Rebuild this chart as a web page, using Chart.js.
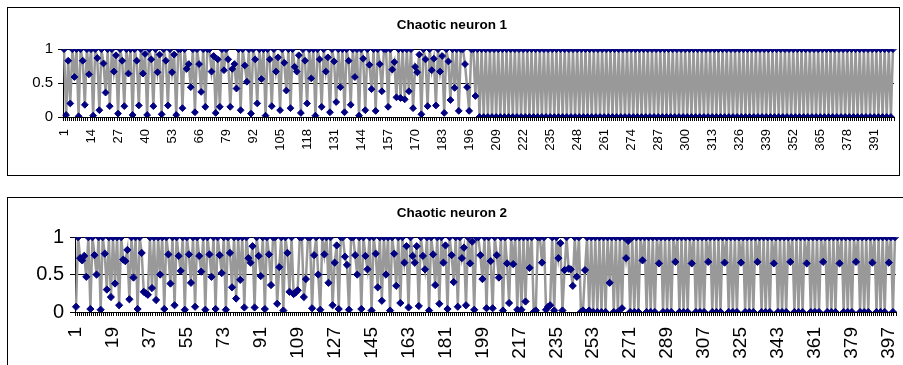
<!DOCTYPE html>
<html>
<head>
<meta charset="utf-8">
<script src="https://cdn.jsdelivr.net/npm/chart.js@4.4.1/dist/chart.umd.min.js"></script>
<style>
  html, body { margin: 0; padding: 0; background: #fff; width: 903px; height: 365px; overflow: hidden; }
  .box { position: absolute; border: 1px solid #000; background: #fff; }
  #box1 { left: 7px; top: 7px; width: 891px; height: 167px; }
  #box2 { left: 7px; top: 197px; width: 909px; height: 200px; }
  canvas { display: block; }
</style>
</head>
<body>
<div class="box" id="box1"><canvas id="chart1" width="891" height="167"></canvas></div>
<div class="box" id="box2"><canvas id="chart2" width="909" height="200"></canvas></div>
<script>
/* ---- Dados ---- */
// categorias 1..400 (só índices de passo)
const categories = Array.from({ length: 400 }, (_, i) => String(i + 1));

// rótulos visíveis do eixo X
const tickLabels1 = [1, 14, 27, 40, 53, 66, 79, 92, 105, 118, 131, 144, 157, 170, 183, 196,
  209, 222, 235, 248, 261, 274, 287, 300, 313, 326, 339, 352, 365, 378, 391];
const tickLabels2 = [1, 19, 37, 55, 73, 91, 109, 127, 145, 163, 181, 199, 217, 235, 253, 271,
  289, 307, 325, 343, 361, 379, 397];

// saída do neurônio 1
const neuron1 = [
  1, 0.03, 0.83, 0.2, 1, 0.59, 1, 0.01, 1, 0.83,
  0.18, 1, 0.63, 1, 0.02, 1, 0.87, 0.1, 1, 0.79,
  0.36, 1, 0.16, 1, 0.67, 0.91, 0.05, 1, 0.83, 0.16,
  1, 0.64, 1, 0.03, 1, 0.83, 0.17, 1, 0.64, 0.93,
  0.03, 1, 0.85, 0.16, 1, 0.66, 0.92, 0.04, 1, 0.83,
  0.17, 1, 0.66, 0.92, 0.03, 1, 1, 0.13, 1, 0.71,
  0.78, 0.44, 1, 0.07, 1, 0.78, 0.37, 1, 0.15, 1,
  1, 0.67, 0.9, 0.06, 0.85, 0.15, 1, 0.69, 1, 0.85,
  0.15, 0.71, 0.78, 0.42, 1, 0.1, 1, 0.76, 0.52, 1,
  0.05, 1, 0.85, 0.2, 1, 0.56, 1, 0.02, 1, 0.85,
  0.16, 1, 0.67, 0.88, 0.1, 1, 0.8, 0.39, 1, 0.13,
  1, 0.74, 0.67, 0.91, 0.06, 1, 0.83, 0.2, 1, 0.57,
  1, 0.02, 1, 0.85, 0.15, 1, 0.67, 0.88, 0.07, 1,
  0.82, 0.22, 1, 0.44, 1, 0.07, 1, 0.83, 0.18, 1,
  0.59, 1, 0.02, 1, 0.86, 0.1, 1, 0.77, 0.41, 1,
  0.09, 1, 0.78, 0.38, 1, 1, 0.15, 1, 0.7, 0.81,
  0.29, 1, 0.28, 1, 0.26, 1, 0.38, 1, 0.13, 0.74,
  0.66, 0.92, 0.04, 1, 0.85, 0.16, 1, 0.69, 0.86, 0.17,
  1, 0.67, 0.9, 0.06, 1, 0.82, 0.25, 1, 0.43, 1,
  0.09, 1, 1, 0.78, 0.44, 0.09, 1, 1, 0.31, 1,
  0, 1, 0, 1, 0, 1, 0, 1, 0, 1, 0, 1, 0, 1, 0, 1, 0, 1, 0, 1,
  0, 1, 0, 1, 0, 1, 0, 1, 0, 1, 0, 1, 0, 1, 0, 1, 0, 1, 0, 1,
  0, 1, 0, 1, 0, 1, 0, 1, 0, 1, 0, 1, 0, 1, 0, 1, 0, 1, 0, 1,
  0, 1, 0, 1, 0, 1, 0, 1, 0, 1, 0, 1, 0, 1, 0, 1, 0, 1, 0, 1,
  0, 1, 0, 1, 0, 1, 0, 1, 0, 1, 0, 1, 0, 1, 0, 1, 0, 1, 0, 1,
  0, 1, 0, 1, 0, 1, 0, 1, 0, 1, 0, 1, 0, 1, 0, 1, 0, 1, 0, 1,
  0, 1, 0, 1, 0, 1, 0, 1, 0, 1, 0, 1, 0, 1, 0, 1, 0, 1, 0, 1,
  0, 1, 0, 1, 0, 1, 0, 1, 0, 1, 0, 1, 0, 1, 0, 1, 0, 1, 0, 1,
  0, 1, 0, 1, 0, 1, 0, 1, 0, 1, 0, 1, 0, 1, 0, 1, 0, 1, 0, 1,
  0, 1, 0, 1, 0, 1, 0, 1, 0, 1, 0, 1, 0, 1, 0, 1, 0, 1, 0, 1
];

// saída do neurônio 2
const neuron2 = [
  0.07, 1, 0.72, 0.69, 0.75, 0.47, 1, 0.04, 1, 0.76,
  0.5, 1, 0.03, 1, 0.78, 0.3, 1, 0.2, 1, 0.38,
  1, 0.09, 1, 0.7, 0.68, 0.83, 0.17, 1, 0.46, 1,
  0.04, 1, 0.79, 0.27, 0.25, 0.23, 1, 0.32, 1, 0.16,
  1, 0.5, 1, 0.04, 1, 0.77, 0.38, 1, 0.09, 1,
  0.75, 0.55, 1, 0.03, 1, 0.77, 0.39, 1, 0.07, 1,
  0.75, 0.54, 1, 0.03, 1, 0.77, 0.47, 1, 0.04, 1,
  0.76, 0.52, 1, 0.03, 1, 0.79, 0.33, 1, 0.18, 1,
  0.43, 1, 0.06, 1, 0.72, 0.66, 0.88, 0.06, 1, 0.75,
  0.48, 1, 0.04, 1, 0.77, 0.36, 1, 1, 0.11, 0.6,
  1, 0.02, 1, 0.79, 0.27, 1, 0.24, 0.26, 0.29, 1,
  1, 0.2, 0.44, 1, 1, 0.05, 0.76, 1, 0.5, 0.03,
  1, 0.77, 1, 0.39, 1, 0.09, 0.66, 0.89, 0.04, 1,
  1, 0.74, 0.63, 0.03, 1, 1, 0.76, 0.5, 1, 0.04,
  1, 0.75, 0.57, 1, 0.02, 1, 0.78, 0.33, 1, 0.15,
  1, 0.5, 1, 0.02, 1, 0.78, 0.35, 1, 0.12, 1,
  0.66, 0.88, 0.06, 1, 0.75, 0.66, 0.88, 0.08, 1, 0.75,
  0.57, 1, 0.02, 1, 0.77, 0.36, 1, 0.11, 1, 0.66,
  0.89, 0.04, 1, 0.76, 0.4, 1, 0.07, 1, 0.72, 0.86,
  0.09, 1, 0.65, 0.94, 0.03, 1, 1, 0.76, 0.44, 1,
  0.05, 1, 0.68, 0.05, 1, 0.76, 0.46, 1, 0.02, 1,
  0.65, 0.12, 1, 0.64, 1, 0.03, 1, 0.03, 1, 0.14,
  1, 0.59, 1, 0, 0.02, 1, 1, 0.66, 1, 0.03,
  0.07, 0.09, 1, 0.02, 1, 0.72, 0.92, 0.02, 0.56, 1,
  0.58, 0.57, 0.35, 1, 0.47, 1, 0, 0.02, 0.56, 1,
  0.02, 1, 0, 1, 0, 1, 0, 1, 0, 1,
  0.39, 1, 0, 1, 0, 1, 0.05, 1, 0.72, 0.95,
  0, 1, 0, 1, 0, 1, 0.69, 1, 0, 1,
  0, 1, 0, 1, 0.65, 1, 0, 1, 0, 1,
  0, 1, 0.67, 1, 0, 1, 0, 1, 0, 1,
  0.65, 1, 0, 1, 0, 1, 0, 1, 0.67, 1,
  0, 1, 0, 1, 0, 1, 0.66, 1, 0, 1,
  0, 1, 0, 1, 0.66, 1, 0, 1, 0, 1,
  0, 1, 0.67, 1, 0, 1, 0, 1, 0, 1,
  0.65, 1, 0, 1, 0, 1, 0, 1, 0.67, 1,
  0, 1, 0, 1, 0, 1, 0.65, 1, 0, 1,
  0, 1, 0, 1, 0.67, 1, 0, 1, 0, 1,
  0, 1, 0.65, 1, 0, 1, 0, 1, 0, 1,
  0.67, 1, 0, 1, 0, 1, 0, 1, 0.66, 1,
  0, 1, 0, 1, 0, 1, 0.66, 1, 0, 1
];

/* ---- Estilo global ---- */
Chart.defaults.font.family = "Arial, 'Liberation Sans', sans-serif";
Chart.defaults.color = '#000';

/* ---- Helper ---- */
function renderNeuron(canvasId, title, values, tickLabels, cfg) {
  const ctx = document.getElementById(canvasId).getContext('2d');
  return new Chart(ctx, {
    type: 'line',
    data: {
      labels: categories,
      datasets: [{
        data: values,
        borderColor: '#999999',
        borderWidth: 2.5,
        tension: 0,
        fill: false,
        pointStyle: 'rectRot',
        pointRadius: cfg.pointRadius,
        pointBackgroundColor: '#000080',
        pointBorderColor: '#000080',
        pointBorderWidth: 1
      }]
    },
    options: {
      responsive: false,
      animation: false,
      devicePixelRatio: 1,
      layout: { padding: { left: 0, right: cfg.padRight, top: 0, bottom: 0 } },
      plugins: {
        legend: { display: false },
        tooltip: { enabled: false },
        title: {
          display: true,
          text: title,
          color: '#000',
          font: { size: 13.5, weight: 'bold' },
          padding: { top: cfg.titleTop, bottom: cfg.titleBottom }
        }
      },
      scales: {
        x: {
          type: 'category',
          offset: true,
          grid: { offset: true, drawOnChartArea: false, drawTicks: true, tickLength: 4, color: '#000' },
          border: { color: '#000' },
          ticks: {
            autoSkip: false,
            maxRotation: 90,
            minRotation: 90,
            padding: cfg.xPad,
            font: { size: cfg.xFont },
            callback: (v, i) => tickLabels.includes(i + 1) ? categories[i] : ''
          },
          afterFit: s => {
            s.height = cfg.xHeight;
            s.paddingLeft = 0;
            s.paddingRight = 0;
          }
        },
        y: {
          min: 0,
          max: 1,
          ticks: {
            stepSize: 0.5,
            padding: cfg.yPad,
            font: { size: cfg.yFont },
            callback: v => String(v)
          },
          grid: { color: '#000', tickLength: 5 },
          border: { color: '#000' },
          afterFit: s => {
            s.width = cfg.yWidth;
            s.paddingTop = 0;
            s.paddingBottom = 0;
          }
        }
      }
    }
  });
}

/* ---- Render ---- */
renderNeuron('chart1', 'Chaotic neuron 1', neuron1, tickLabels1, {
  pointRadius: 3.4, padRight: 3, titleTop: 9, titleBottom: 16,
  xPad: 8, xFont: 13, xHeight: 58, yPad: 5, yFont: 15, yWidth: 55
});

renderNeuron('chart2', 'Chaotic neuron 2', neuron2, tickLabels2, {
  pointRadius: 3.6, padRight: 21, titleTop: 7, titleBottom: 16,
  xPad: 11, xFont: 19, xHeight: 86, yPad: 6, yFont: 20, yWidth: 67
});
</script>
</body>
</html>
